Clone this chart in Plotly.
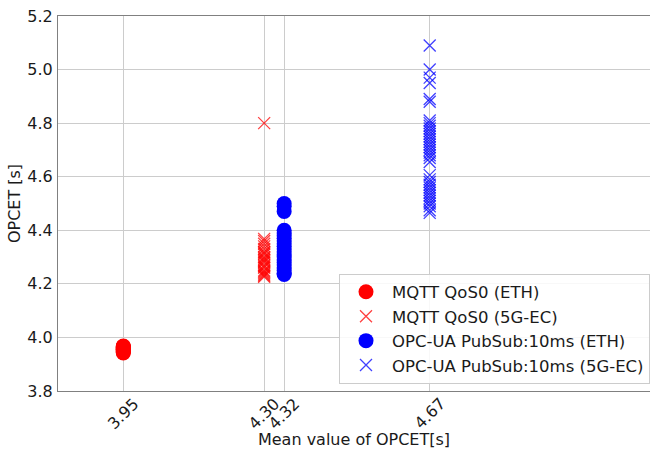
import plotly.graph_objects as go

# ---- data ----
tick_labels = ["3.95", "4.30", "4.32", "4.67"]
x_pos = [3.95, 4.281, 4.328, 4.67]

mqtt_eth = [3.942, 3.945, 3.948, 3.950, 3.951, 3.953, 3.955, 3.956, 3.958,
            3.960, 3.961, 3.963, 3.965, 3.966, 3.968]
mqtt_5g = [4.80, 4.368, 4.36, 4.35, 4.34, 4.33, 4.32, 4.315, 4.31, 4.30,
           4.295, 4.29, 4.285, 4.28, 4.27, 4.265, 4.26, 4.25, 4.245, 4.24,
           4.235, 4.23, 4.226]
opc_eth = [4.50, 4.49, 4.47, 4.40, 4.39, 4.38, 4.37, 4.36, 4.35, 4.34, 4.33,
           4.32, 4.31, 4.30, 4.29, 4.28, 4.27, 4.26, 4.25, 4.24, 4.235]
opc_5g = [5.09, 5.00, 4.97, 4.95, 4.89, 4.88, 4.81, 4.80, 4.79, 4.78, 4.77,
          4.76, 4.75, 4.74, 4.73, 4.72, 4.71, 4.70, 4.69, 4.68, 4.67, 4.655,
          4.606, 4.59, 4.58, 4.57, 4.56, 4.55, 4.54, 4.53, 4.52, 4.51, 4.50,
          4.49, 4.475, 4.465]

series_names = ["MQTT QoS0 (ETH)", "MQTT QoS0 (5G-EC)",
                "OPC-UA PubSub:10ms (ETH)", "OPC-UA PubSub:10ms (5G-EC)"]

FONT = "DejaVu Sans"
TXT = "#1a1a1a"
fig = go.Figure()

fig.add_trace(go.Scatter(
    x=[x_pos[0]] * len(mqtt_eth), y=mqtt_eth, mode="markers",
    name=series_names[0],
    marker=dict(symbol="circle", size=15, color="#ff0000", line=dict(width=0))))
fig.add_trace(go.Scatter(
    x=[x_pos[1]] * len(mqtt_5g), y=mqtt_5g, mode="markers",
    name=series_names[1],
    marker=dict(symbol="x-thin", size=12, color="rgba(255,0,0,0.75)",
                line=dict(width=1.3, color="rgba(255,0,0,0.75)"))))
fig.add_trace(go.Scatter(
    x=[x_pos[2]] * len(opc_eth), y=opc_eth, mode="markers",
    name=series_names[2],
    marker=dict(symbol="circle", size=15, color="#0000ff", line=dict(width=0))))
fig.add_trace(go.Scatter(
    x=[x_pos[3]] * len(opc_5g), y=opc_5g, mode="markers",
    name=series_names[3],
    marker=dict(symbol="x-thin", size=12, color="rgba(0,0,255,0.75)",
                line=dict(width=1.3, color="rgba(0,0,255,0.75)"))))

annotations = []
for xp, lab in zip(x_pos, tick_labels):
    annotations.append(dict(
        x=xp, y=0, xref="x", yref="paper", text=lab, showarrow=False,
        textangle=-45, xanchor="center", yanchor="top", yshift=0,
        font=dict(family=FONT, size=16, color=TXT)))

fig.update_layout(
    width=650, height=455,
    margin=dict(l=58, r=0, t=16, b=64),
    paper_bgcolor="white", plot_bgcolor="white",
    font=dict(family=FONT, size=16, color=TXT),
    annotations=annotations,
    legend=dict(
        x=0.4747, y=0.02, xanchor="left", yanchor="bottom",
        bgcolor="rgba(255,255,255,0.85)", bordercolor="#cccccc", borderwidth=1,
        font=dict(family=FONT, size=16.5, color=TXT),
        itemwidth=42),
    xaxis=dict(
        range=[3.7966, 5.1876], tickvals=x_pos, showticklabels=False,
        showgrid=True, gridcolor="#cccccc", gridwidth=1,
        showline=True, linecolor="#808080", linewidth=1, mirror=True,
        zeroline=False, ticks="",
        title=dict(text="Mean value of OPCET[s]", standoff=42,
                   font=dict(family=FONT, size=16, color=TXT))),
    yaxis=dict(
        range=[3.8, 5.2], tickmode="array",
        tickvals=[3.8, 4.0, 4.2, 4.4, 4.6, 4.8, 5.0, 5.2],
        ticktext=["3.8", "4.0", "4.2", "4.4", "4.6", "4.8", "5.0", "5.2"],
        showgrid=True, gridcolor="#cccccc", gridwidth=1,
        showline=True, linecolor="#808080", linewidth=1, mirror=False,
        zeroline=False, ticks="outside", ticklen=1, tickcolor="rgba(0,0,0,0)",
        title=dict(text="OPCET [s]", standoff=2,
                   font=dict(family=FONT, size=16, color=TXT))),
)

fig.write_html("out.html")
